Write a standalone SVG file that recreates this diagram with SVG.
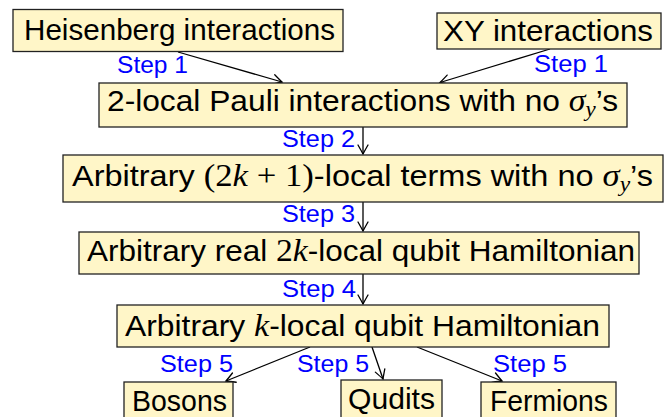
<svg xmlns="http://www.w3.org/2000/svg" width="669" height="417" viewBox="0 0 669 417">
  <style>
    .box { fill: #FFF6C8; stroke: #222; stroke-width: 1.3; }
    .t { font-family: "Liberation Sans", Arial, sans-serif; font-size: 29px; fill: #000; }
    .m { font-family: "Liberation Serif", "Times New Roman", serif; font-style: italic; font-size: 31px; }
    .mr { font-family: "Liberation Serif", "Times New Roman", serif; font-size: 31px; }
    .sub { font-family: "Liberation Serif", "Times New Roman", serif; font-style: italic; font-size: 21px; }
    .lbl { font-family: "Liberation Sans", Arial, sans-serif; font-size: 23px; fill: #0000FF; }
    .edge { fill: none; stroke: #000; stroke-width: 1.3; marker-end: url(#arr); }
  </style>
  <defs>
    <marker id="arr" markerUnits="userSpaceOnUse" markerWidth="14" markerHeight="14" refX="0" refY="0" viewBox="-10 -7 12 14" orient="auto" overflow="visible">
      <path d="M -9 -5 Q -2 -1 0 0 Q -2 1 -9 5" fill="none" stroke="#000" stroke-width="1.3" stroke-linecap="round"/>
    </marker>
  </defs>
  <rect width="669" height="417" fill="#FFFFFF"/>

  <g id="connectors">
    <line class="edge" x1="178" y1="52" x2="282" y2="82"/>
    <line class="edge" x1="550" y1="49" x2="440" y2="82.5"/>
    <line class="edge" x1="363" y1="127" x2="363" y2="154"/>
    <line class="edge" x1="363" y1="202" x2="363" y2="231"/>
    <line class="edge" x1="363" y1="274" x2="363" y2="304"/>
    <line class="edge" x1="310" y1="347" x2="226" y2="381"/>
    <line class="edge" x1="372" y1="347" x2="383" y2="379"/>
    <line class="edge" x1="417" y1="347" x2="502" y2="381"/>
    <text class="lbl" x="117" y="73" textLength="71" lengthAdjust="spacingAndGlyphs">Step 1</text>
    <text class="lbl" x="534" y="72" textLength="74" lengthAdjust="spacingAndGlyphs">Step 1</text>
    <text class="lbl" x="282" y="147" textLength="73" lengthAdjust="spacingAndGlyphs">Step 2</text>
    <text class="lbl" x="282" y="222" textLength="73" lengthAdjust="spacingAndGlyphs">Step 3</text>
    <text class="lbl" x="282" y="297" textLength="74" lengthAdjust="spacingAndGlyphs">Step 4</text>
    <text class="lbl" x="160" y="372" textLength="73" lengthAdjust="spacingAndGlyphs">Step 5</text>
    <text class="lbl" x="297" y="372" textLength="72" lengthAdjust="spacingAndGlyphs">Step 5</text>
    <text class="lbl" x="493" y="372" textLength="74" lengthAdjust="spacingAndGlyphs">Step 5</text>
  </g>

  <g id="heisenberg">
    <rect class="box" x="13" y="9.5" width="330" height="42"/>
    <text class="t" x="24" y="40" textLength="311" lengthAdjust="spacingAndGlyphs">Heisenberg interactions</text>
  </g>
  <g id="xy">
    <rect class="box" x="437" y="13" width="224" height="36"/>
    <text class="t" x="443" y="41" textLength="210" lengthAdjust="spacingAndGlyphs">XY interactions</text>
  </g>
  <g id="twolocal">
    <rect class="box" x="99" y="83" width="528" height="44"/>
    <text class="t" x="107" y="111" textLength="511" lengthAdjust="spacingAndGlyphs">2-local Pauli interactions with no <tspan class="m">σ</tspan><tspan class="sub" dy="5">y</tspan><tspan dy="-5">’s</tspan></text>
  </g>
  <g id="twokplus1">
    <rect class="box" x="63" y="155" width="600" height="47"/>
    <text class="t" x="72" y="186" textLength="581" lengthAdjust="spacingAndGlyphs">Arbitrary <tspan class="mr">(2</tspan><tspan class="m">k</tspan><tspan class="mr"> + 1)</tspan>-local terms with no <tspan class="m">σ</tspan><tspan class="sub" dy="5">y</tspan><tspan dy="-5">’s</tspan></text>
  </g>
  <g id="real2k">
    <rect class="box" x="79" y="232" width="560" height="42"/>
    <text class="t" x="87" y="261" textLength="548" lengthAdjust="spacingAndGlyphs">Arbitrary real <tspan class="mr">2</tspan><tspan class="m">k</tspan>-local qubit Hamiltonian</text>
  </g>
  <g id="klocal">
    <rect class="box" x="117" y="305" width="492" height="42"/>
    <text class="t" x="125" y="336" textLength="475" lengthAdjust="spacingAndGlyphs">Arbitrary <tspan class="m">k</tspan>-local qubit Hamiltonian</text>
  </g>
  <g id="bosons">
    <rect class="box" x="124" y="382" width="109" height="40"/>
    <text class="t" x="132" y="411" textLength="95" lengthAdjust="spacingAndGlyphs">Bosons</text>
  </g>
  <g id="qudits">
    <rect class="box" x="341" y="380" width="101" height="42"/>
    <text class="t" x="348" y="409" textLength="87" lengthAdjust="spacingAndGlyphs">Qudits</text>
  </g>
  <g id="fermions">
    <rect class="box" x="481" y="382" width="135" height="40"/>
    <text class="t" x="490" y="411" textLength="118" lengthAdjust="spacingAndGlyphs">Fermions</text>
  </g>
</svg>
